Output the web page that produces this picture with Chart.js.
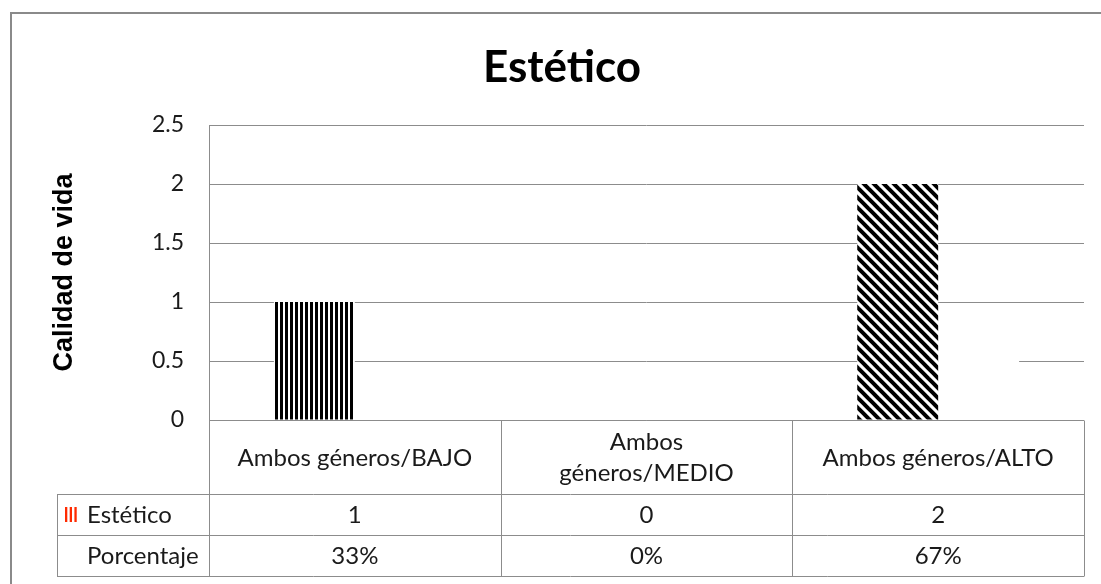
<!DOCTYPE html>
<html>
<head>
<meta charset="utf-8">
<script src="https://cdn.jsdelivr.net/npm/chart.js@4"></script>
<style>
  html, body { margin: 0; padding: 0; background: #ffffff; overflow: hidden; }
  #wrap { width: 1101px; height: 584px; position: relative; overflow: hidden; }
  canvas { display: block; }
</style>
</head>
<body>
<div id="wrap"><canvas id="c" width="1101" height="584"></canvas></div>
<script>
// ---- data ----
const chartTitle = 'Estético';
const yAxisTitle = 'Calidad de vida';
const categories = [['Ambos géneros/BAJO'], ['Ambos', 'géneros/MEDIO'], ['Ambos géneros/ALTO']];
const seriesNames = ['Estético', 'Porcentaje'];
const esteticoValues = [1, 0, 2];
const porcentajeValues = [0.33, 0, 0.67];
const yTickLabels = ['0', '0.5', '1', '1.5', '2', '2.5'];

// ---- patterns ----
function verticalPattern() {
  const c = document.createElement('canvas');
  c.width = 5; c.height = 5;
  const g = c.getContext('2d');
  g.fillStyle = '#ffffff'; g.fillRect(0, 0, 5, 5);
  g.fillStyle = '#000000'; g.fillRect(0, 0, 3, 5);
  return g.createPattern(c, 'repeat');
}
function diagonalPattern() {
  const s = 10;
  const c = document.createElement('canvas');
  c.width = s; c.height = s;
  const g = c.getContext('2d');
  g.fillStyle = '#ffffff'; g.fillRect(0, 0, s, s);
  g.strokeStyle = '#000000'; g.lineWidth = 4;
  for (const dx of [-s, 0, s]) {
    g.beginPath();
    g.moveTo(dx - 2, -2);
    g.lineTo(dx + s + 2, s + 2);
    g.stroke();
  }
  return g.createPattern(c, 'repeat');
}
const vPat = verticalPattern();
const dPat = diagonalPattern();

const TEXT = '#1a1a1a';
const LINE = '#8c8c8c';
const FONT = 'Lato';

const frameAndTable = {
  id: 'frameAndTable',
  beforeDraw(chart) {
    const ctx = chart.ctx;
    ctx.save();
    ctx.fillStyle = '#8a8a8a';
    ctx.fillRect(10, 12, 2, chart.height - 12);
    ctx.fillRect(10, 12, chart.width - 10, 2);
    ctx.restore();
  },
  afterDraw(chart) {
    const ctx = chart.ctx;
    const ca = chart.chartArea;
    const xs = chart.scales.x;
    const n = categories.length;
    const top = ca.bottom;
    const r1 = top + 74, r2 = r1 + 41, r3 = r2 + 41;
    const legendLeft = 57;
    const px = i => xs.getPixelForValue(i);
    const bounds = [ca.left];
    for (let i = 0; i < n - 1; i++) bounds.push((px(i) + px(i + 1)) / 2);
    bounds.push(ca.right);
    const h = v => Math.round(v) + 0.5;

    ctx.save();
    ctx.strokeStyle = LINE;
    ctx.lineWidth = 1;
    ctx.beginPath();
    ctx.moveTo(ca.left, h(top)); ctx.lineTo(ca.right, h(top));
    ctx.moveTo(legendLeft, h(r1)); ctx.lineTo(ca.right, h(r1));
    ctx.moveTo(legendLeft, h(r2)); ctx.lineTo(ca.right, h(r2));
    ctx.moveTo(legendLeft, h(r3)); ctx.lineTo(ca.right, h(r3));
    ctx.moveTo(h(ca.left), ca.top); ctx.lineTo(h(ca.left), h(r3));
    for (let i = 1; i < bounds.length; i++) {
      ctx.moveTo(h(bounds[i]), h(top)); ctx.lineTo(h(bounds[i]), h(r3));
    }
    ctx.moveTo(h(legendLeft), h(r1)); ctx.lineTo(h(legendLeft), h(r3));
    ctx.stroke();

    ctx.fillStyle = TEXT;
    ctx.font = '24px ' + FONT;
    ctx.textAlign = 'center';
    ctx.textBaseline = 'alphabetic';
    const lh = 31.5;
    const cap = 8.5;
    const c1 = (top + r1) / 2;
    categories.forEach((lines, i) => {
      const start = c1 - (lines.length - 1) * lh / 2;
      lines.forEach((t, k) => ctx.fillText(t, px(i), start + k * lh + cap));
    });
    const c2 = (r1 + r2) / 2, c3 = (r2 + r3) / 2;
    esteticoValues.forEach((v, i) => ctx.fillText(String(v), px(i), c2 + cap));
    porcentajeValues.forEach((v, i) => ctx.fillText(Math.round(v * 100) + '%', px(i), c3 + cap));

    ctx.textAlign = 'left';
    ctx.fillText(seriesNames[0], 87, c2 + cap);
    ctx.fillText(seriesNames[1], 87, c3 + cap);
    ctx.fillStyle = '#ff2a00';
    for (let k = 0; k < 3; k++) ctx.fillRect(65 + k * 4.7, c2 - 7.5, 2.3, 15);
    ctx.restore();
  }
};

new Chart(document.getElementById('c'), {
  type: 'bar',
  data: {
    labels: categories,
    datasets: [
      { label: seriesNames[0], data: esteticoValues, backgroundColor: [vPat, vPat, dPat],
        borderWidth: 0, categoryPercentage: 0.555, barPercentage: 1.0 },
      { label: seriesNames[1], data: porcentajeValues, backgroundColor: '#ffffff',
        borderWidth: 0, categoryPercentage: 0.555, barPercentage: 1.0 }
    ]
  },
  options: {
    responsive: false,
    devicePixelRatio: 1,
    animation: false,
    layout: { padding: { left: 40, right: 17, top: 0, bottom: 0 } },
    plugins: {
      legend: { display: false },
      tooltip: { enabled: false },
      title: {
        display: true, text: chartTitle, color: '#000000',
        font: { family: FONT, size: 44, weight: 'bold', lineHeight: 1.2 },
        padding: { top: 41, bottom: 31.2 }
      }
    },
    scales: {
      x: {
        type: 'category',
        offset: true,
        grid: { display: false },
        border: { display: false },
        ticks: { display: false },
        afterFit: s => { s.height = 164; }
      },
      y: {
        min: 0, max: 2.5,
        ticks: {
          stepSize: 0.5, padding: 25, color: TEXT,
          font: { family: FONT, size: 23 },
          callback: (v, i) => yTickLabels[i]
        },
        grid: { color: LINE, lineWidth: 1, drawTicks: false },
        border: { display: false },
        title: {
          display: true, text: yAxisTitle, color: '#000000',
          font: { family: 'Liberation Sans', size: 27, weight: 'bold', lineHeight: 1.2 },
          padding: { top: 8, bottom: 0 }
        },
        afterFit: s => { s.width = 169; }
      }
    }
  },
  plugins: [frameAndTable]
});
</script>
</body>
</html>
